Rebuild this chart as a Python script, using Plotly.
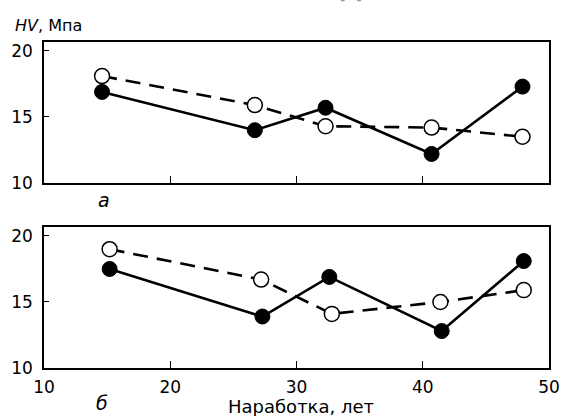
import plotly.graph_objects as go

# Data
x_a_filled = [14.6, 26.7, 32.3, 40.7, 47.9]
y_a_filled = [16.9, 14.0, 15.7, 12.2, 17.3]
x_a_open = [14.6, 26.7, 32.3, 40.7, 47.9]
y_a_open = [18.1, 15.9, 14.3, 14.2, 13.5]

x_b_filled = [15.2, 27.3, 32.6, 41.5, 48.0]
y_b_filled = [17.5, 13.9, 16.9, 12.8, 18.1]
x_b_open = [15.2, 27.2, 32.8, 41.4, 48.0]
y_b_open = [19.0, 16.7, 14.1, 15.0, 15.9]

x_ticks = [10, 20, 30, 40, 50]
y_ticks = [10, 15, 20]

FONT = "DejaVu Sans, Liberation Sans, sans-serif"

fig = go.Figure()

def add_panel(xf, yf, xo, yo, xa, ya):
    fig.add_trace(go.Scatter(
        x=xf, y=yf, mode="lines+markers", xaxis=xa, yaxis=ya,
        line=dict(color="black", width=2.6),
        marker=dict(symbol="circle", size=15, color="black",
                    line=dict(color="black", width=1)),
        showlegend=False, cliponaxis=False))
    fig.add_trace(go.Scatter(
        x=xo, y=yo, mode="lines+markers", xaxis=xa, yaxis=ya,
        line=dict(color="black", width=2.6, dash="15px,9px"),
        marker=dict(symbol="circle", size=15, color="white",
                    line=dict(color="black", width=1.5)),
        showlegend=False, cliponaxis=False))

add_panel(x_a_filled, y_a_filled, x_a_open, y_a_open, "x", "y")
add_panel(x_b_filled, y_b_filled, x_b_open, y_b_open, "x2", "y2")

xcommon = dict(range=[10, 50], tickvals=x_ticks, ticks="inside", ticklen=7,
               tickwidth=1.2, tickcolor="black", showline=True, linecolor="black",
               linewidth=1.6, mirror=True, showgrid=False, zeroline=False,
               ticklabelstandoff=3,
               tickfont=dict(family=FONT, size=17, color="black"))
ycommon = dict(range=[10, 20.68], tickvals=y_ticks, ticks="inside", ticklen=5,
               tickwidth=1.2, tickcolor="black", showline=True, linecolor="black",
               linewidth=1.6, mirror=True, showgrid=False, zeroline=False,
               ticklabelstandoff=6,
               tickfont=dict(family=FONT, size=17, color="black"))

fig.update_layout(
    width=571, height=416,
    margin=dict(l=42, r=11, t=42, b=48),
    paper_bgcolor="white", plot_bgcolor="white",
    xaxis=dict(**xcommon, domain=[0, 1], anchor="y", showticklabels=False),
    yaxis=dict(**ycommon, domain=[0.5675, 1], anchor="x"),
    xaxis2=dict(**xcommon, domain=[0, 1], anchor="y2"),
    yaxis2=dict(**ycommon, domain=[0, 0.4325], anchor="x2"),
    annotations=[
        dict(text="<i>HV</i>, Мпа", xref="paper", yref="paper", x=-0.0618, y=1.052,
             xanchor="left", yanchor="middle", showarrow=False,
             font=dict(family=FONT, size=16, color="black")),
        dict(text="<i>а</i>", xref="paper", yref="paper", x=0.1197, y=0.515,
             xanchor="center", yanchor="middle", showarrow=False,
             font=dict(family=FONT, size=19, color="black")),
        dict(text="<i>б</i>", xref="paper", yref="paper", x=0.1158, y=-0.107,
             xanchor="center", yanchor="middle", showarrow=False,
             font=dict(family=FONT, size=19, color="black")),
        dict(text="Наработка, лет", xref="paper", yref="paper", x=0.5097, y=-0.0805,
             xanchor="center", yanchor="top", showarrow=False,
             font=dict(family=FONT, size=18, color="black")),
        dict(text="<b>ТЕХНИЧЕСКАЯ ДИАГНОСТИКА</b>", xref="paper", yref="paper",
             x=0.131, y=1.113, xanchor="left", yanchor="bottom", showarrow=False,
             font=dict(family=FONT, size=26, color="#999999")),
    ],
)

fig.write_html("out.html")
